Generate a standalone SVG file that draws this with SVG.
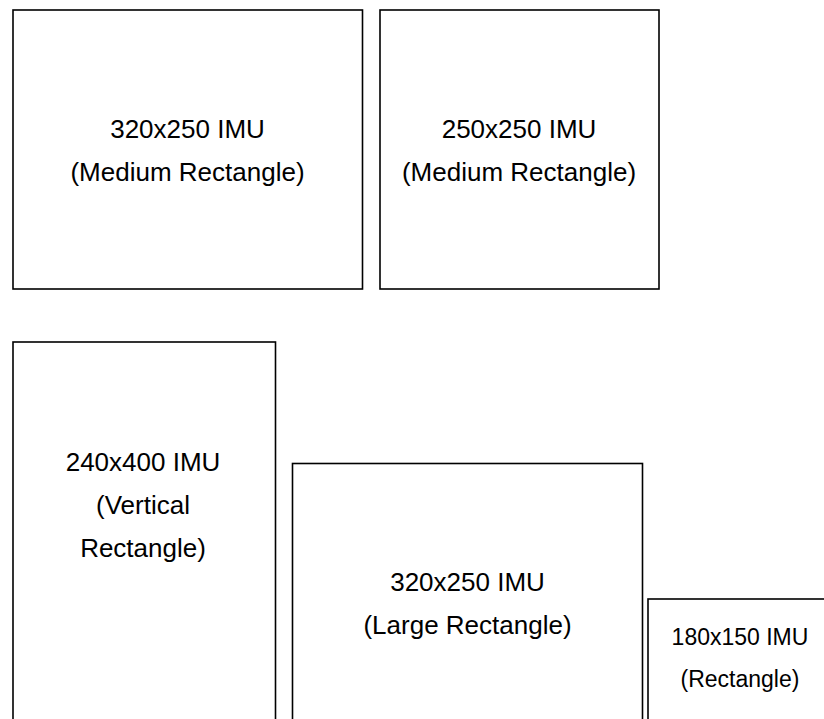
<svg xmlns="http://www.w3.org/2000/svg" width="824" height="719" viewBox="0 0 824 719">
<style>
.box{fill:#fff;stroke:#000;stroke-width:1.6}
.t{font-family:"Liberation Sans",Arial,sans-serif;font-size:26px;fill:#000;text-anchor:middle}
.s{font-size:23px}
</style>
<rect width="824" height="719" fill="#fff"/>
<g id="box-320x250-medium">
<rect class="box" x="13" y="10" width="349.5" height="279"/>
<text class="t" x="187.5" y="138">320x250 IMU</text>
<text class="t" x="187.5" y="181">(Medium Rectangle)</text>
</g>
<g id="box-250x250-medium">
<rect class="box" x="380" y="10" width="279" height="279"/>
<text class="t" x="519" y="138">250x250 IMU</text>
<text class="t" x="519" y="181">(Medium Rectangle)</text>
</g>
<g id="box-240x400-vertical">
<rect class="box" x="13" y="342" width="262.5" height="430"/>
<text class="t" x="143" y="471">240x400 IMU</text>
<text class="t" x="143" y="514">(Vertical</text>
<text class="t" x="143" y="557">Rectangle)</text>
</g>
<g id="box-320x250-large">
<rect class="box" x="292.5" y="463.5" width="350" height="300"/>
<text class="t" x="467.5" y="591">320x250 IMU</text>
<text class="t" x="467.5" y="634">(Large Rectangle)</text>
</g>
<g id="box-180x150">
<rect class="box" x="648" y="599" width="200" height="200"/>
<text class="t s" x="740" y="645">180x150 IMU</text>
<text class="t s" x="740" y="687">(Rectangle)</text>
</g>
<g id="connectors"></g>
</svg>
